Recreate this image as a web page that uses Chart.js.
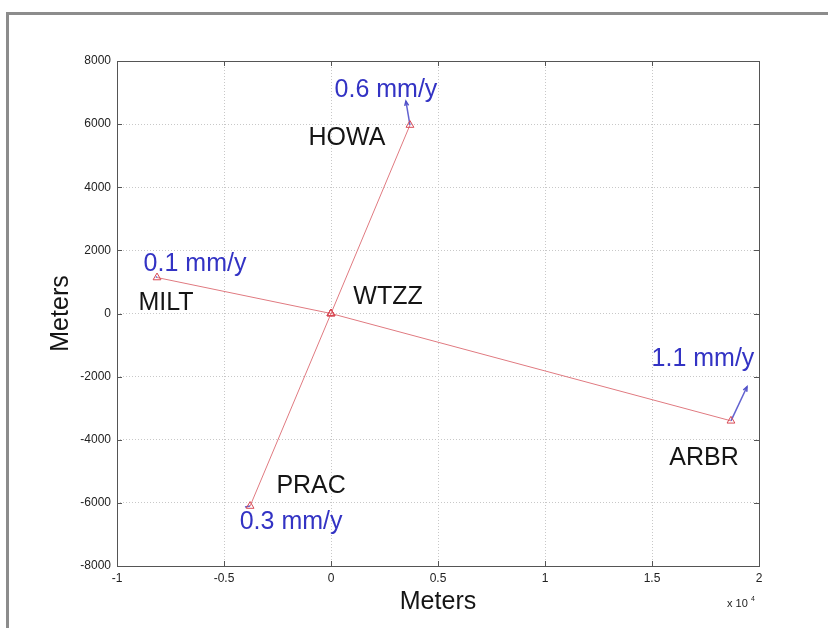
<!DOCTYPE html>
<html>
<head>
<meta charset="utf-8">
<script src="https://cdn.jsdelivr.net/npm/chart.js@4/dist/chart.umd.min.js"></script>
<style>
  html, body { margin: 0; padding: 0; background: #fff; }
  #wrap { position: relative; width: 828px; height: 628px; overflow: hidden; }
  #frame { position: absolute; left: 6px; top: 12px; width: 900px; height: 700px;
           border-left: 3px solid #8c8c8c; border-top: 3px solid #8c8c8c; pointer-events: none; }
  canvas { position: absolute; left: 0; top: 0; }
</style>
</head>
<body>
<div id="wrap">
  <canvas id="gps" width="828" height="628"></canvas>
  <div id="frame"></div>
</div>
<script>
// station positions relative to WTZZ (meters)
const stations = ['WTZZ', 'HOWA', 'MILT', 'ARBR', 'PRAC'];
const eastM  = [0, 3690, -8130, 18690, -3780];
const northM = [0, 5970, 1140, -3400, -6100];
// velocity vector tips (meters, plotted scale)
const tipEast  = [null, 3500, -8180, 19440, -4020];
const tipNorth = [null, 6730, 1170, -2320, -6130];
const rates = ['', '0.6 mm/y', '0.1 mm/y', '1.1 mm/y', '0.3 mm/y'];

const xTicks = [-1, -0.5, 0, 0.5, 1, 1.5, 2];
const yTicks = [-8000, -6000, -4000, -2000, 0, 2000, 4000, 6000, 8000];

// label offsets in px from each station: [name dx, name dy, rate dx, rate dy]
const labelOffsets = [
  [57, -16, 0, 0],
  [-63, 13, -24, -35],
  [9, 26, 38, -13],
  [-27, 37, -28, -62],
  [61, -20, 41, 16]
];

const FONT = '"Liberation Sans", Arial, sans-serif';
const red = '#e07a80';
const blue = '#3333c4';

const datasets = [];
for (let i = 1; i < stations.length; i++) {
  datasets.push({
    label: stations[i],
    data: [{ x: eastM[0], y: northM[0] }, { x: eastM[i], y: northM[i] }],
    showLine: true,
    borderColor: red,
    borderWidth: 1,
    pointStyle: 'triangle',
    pointRadius: 4.5,
    pointBorderColor: '#d84a55',
    pointBackgroundColor: 'rgba(0,0,0,0)',
    pointBorderWidth: 1
  });
}
for (let i = 1; i < stations.length; i++) {
  datasets.push({
    label: rates[i],
    arrow: true,
    data: [{ x: eastM[i], y: northM[i] }, { x: tipEast[i], y: tipNorth[i] }],
    showLine: true,
    borderColor: '#6262d0',
    borderWidth: 1.5,
    pointRadius: 0
  });
}

const boxPlugin = {
  id: 'box',
  afterDatasetsDraw(chart) {
    const { ctx, chartArea: a, scales: { x, y } } = chart;
    ctx.save();
    // arrowheads
    chart.data.datasets.forEach(ds => {
      if (!ds.arrow) return;
      const p0 = ds.data[0], p1 = ds.data[1];
      const x0 = x.getPixelForValue(p0.x), y0 = y.getPixelForValue(p0.y);
      const x1 = x.getPixelForValue(p1.x), y1 = y.getPixelForValue(p1.y);
      const len = Math.hypot(x1 - x0, y1 - y0);
      if (len < 6) return;
      const ang = Math.atan2(y1 - y0, x1 - x0);
      ctx.strokeStyle = '#5050c8';
      ctx.lineWidth = 1.5;
      ctx.beginPath();
      ctx.moveTo(x1 - 5 * Math.cos(ang - 0.4), y1 - 5 * Math.sin(ang - 0.4));
      ctx.lineTo(x1, y1);
      ctx.lineTo(x1 - 5 * Math.cos(ang + 0.4), y1 - 5 * Math.sin(ang + 0.4));
      ctx.stroke();
    });
    // station names and rates
    ctx.textAlign = 'center';
    ctx.textBaseline = 'middle';
    ctx.font = '25px ' + FONT;
    stations.forEach((s, i) => {
      const px = x.getPixelForValue(eastM[i]), py = y.getPixelForValue(northM[i]);
      const o = labelOffsets[i];
      ctx.fillStyle = '#151515';
      ctx.fillText(s, px + o[0], py + o[1]);
      if (rates[i]) {
        ctx.fillStyle = blue;
        ctx.fillText(rates[i], px + o[2], py + o[3]);
      }
    });
    // axes box with inward ticks
    ctx.strokeStyle = '#555';
    ctx.lineWidth = 1;
    ctx.strokeRect(a.left + 0.5, a.top + 0.5, a.right - a.left, a.bottom - a.top);
    ctx.beginPath();
    x.ticks.forEach(t => {
      const px = Math.round(x.getPixelForValue(t.value)) + 0.5;
      ctx.moveTo(px, a.top); ctx.lineTo(px, a.top + 5);
      ctx.moveTo(px, a.bottom); ctx.lineTo(px, a.bottom - 5);
    });
    y.ticks.forEach(t => {
      const py = Math.round(y.getPixelForValue(t.value)) + 0.5;
      ctx.moveTo(a.left, py); ctx.lineTo(a.left + 5, py);
      ctx.moveTo(a.right, py); ctx.lineTo(a.right - 5, py);
    });
    ctx.stroke();
    // exponent label
    ctx.fillStyle = '#222';
    ctx.textAlign = 'left';
    ctx.font = '11px ' + FONT;
    ctx.fillText('x 10', a.right - 32, a.bottom + 38);
    ctx.font = '7px ' + FONT;
    ctx.fillText('4', a.right - 8, a.bottom + 33);
    ctx.restore();
  }
};

new Chart(document.getElementById('gps').getContext('2d'), {
  type: 'scatter',
  data: { datasets },
  options: {
    responsive: false,
    animation: false,
    events: [],
    layout: { padding: { left: 0, top: 61, right: 69, bottom: 0 } },
    plugins: { legend: { display: false }, tooltip: { enabled: false } },
    scales: {
      x: {
        type: 'linear',
        min: -10000,
        max: 20000,
        afterBuildTicks: s => { s.ticks = xTicks.map(v => ({ value: v * 10000 })); },
        afterFit: s => { s.height = 62; },
        ticks: {
          color: '#222',
          padding: 5,
          font: { size: 12, family: FONT },
          callback: v => String(v / 10000)
        },
        grid: { color: '#c8c8c8', drawTicks: false },
        border: { display: false, dash: [1, 2] },
        title: {
          display: true,
          text: 'Meters',
          color: '#151515',
          font: { size: 25, family: FONT },
          padding: { top: 0, bottom: 11 }
        }
      },
      y: {
        type: 'linear',
        min: -8000,
        max: 8000,
        afterBuildTicks: s => { s.ticks = yTicks.map(v => ({ value: v })); },
        afterFit: s => { s.width = 117; },
        ticks: {
          color: '#222',
          padding: 6,
          font: { size: 12, family: FONT },
          callback: v => String(v)
        },
        grid: { color: '#c8c8c8', drawTicks: false },
        border: { display: false, dash: [1, 2] },
        title: {
          display: true,
          text: 'Meters',
          color: '#151515',
          font: { size: 25, family: FONT },
          padding: { top: 46, bottom: 0 }
        }
      }
    }
  },
  plugins: [boxPlugin]
});
</script>
</body>
</html>
